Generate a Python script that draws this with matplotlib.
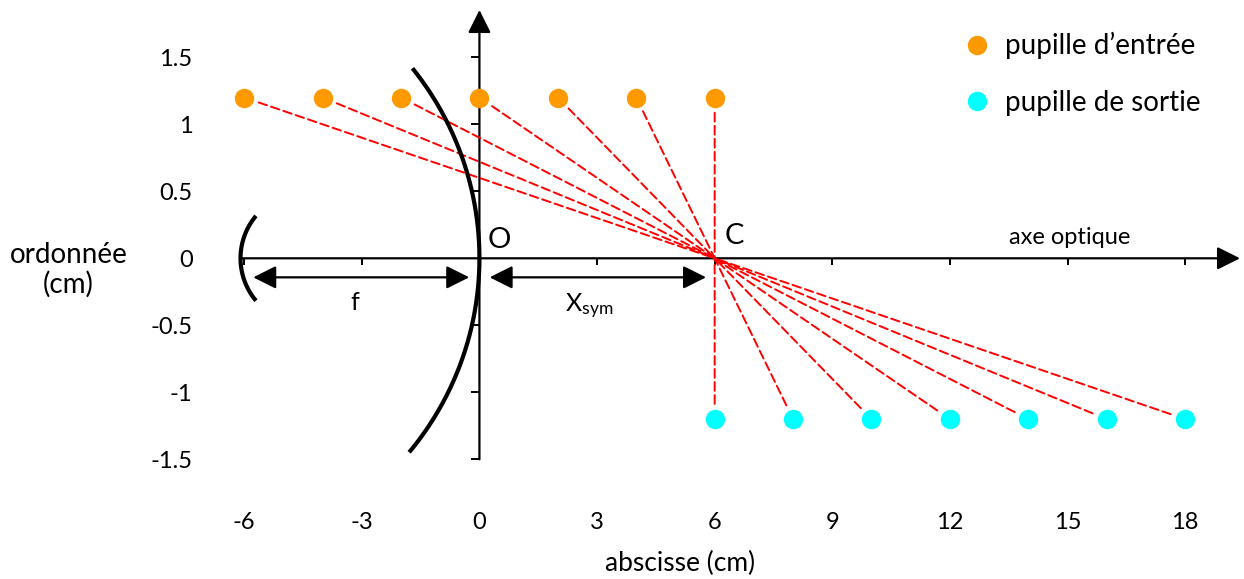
import matplotlib
matplotlib.use("Agg")
import matplotlib.pyplot as plt
import numpy as np
from matplotlib.markers import TICKLEFT, TICKDOWN

plt.rcParams['font.family'] = ['Lato', 'DejaVu Sans']
plt.rcParams['axes.unicode_minus'] = False
plt.rcParams['mathtext.default'] = 'regular'

# data
entree_x = [-6, -4, -2, 0, 2, 4, 6]
entree_y = [1.2, 1.2, 1.2, 1.2, 1.2, 1.2, 1.2]
sortie_x = [6, 8, 10, 12, 14, 16, 18]
sortie_y = [-1.2, -1.2, -1.2, -1.2, -1.2, -1.2, -1.2]
centre = (6, 0)

xticks = [-6, -3, 0, 3, 6, 9, 12, 15, 18]
yticks = [1.5, 1, 0.5, 0, -0.5, -1, -1.5]
ytick_labels = ['1.5', '1', '0.5', '0', '-0.5', '-1', '-1.5']

orange = '#FF9900'
cyan = '#00FFFF'

fig = plt.figure(figsize=(12.44, 5.79), dpi=100)
ax = fig.add_axes([205 / 1244, 1 - 466 / 579, 1035 / 1244, 456 / 579])
ax.set_xlim(-7.0, 19.4)
ax.set_ylim(-1.55, 1.853)
for s in ax.spines.values():
    s.set_visible(False)

ax.set_xticks(xticks)
ax.set_xticklabels([str(t) for t in xticks])
ax.set_yticks(yticks)
ax.set_yticklabels(ytick_labels)
ax.tick_params(axis='x', length=0, pad=33, labelsize=17)
ax.tick_params(axis='y', length=0, pad=9, labelsize=17)

# axes drawn through the origin
ax_arrow = dict(arrowstyle='-|>,head_length=0.7,head_width=0.35', lw=1.6,
                color='k', mutation_scale=20, shrinkA=0, shrinkB=0)
ax.annotate('', xy=(19.4, 0), xytext=(-6.05, 0), arrowprops=ax_arrow,
            annotation_clip=False)
ax.annotate('', xy=(0, 1.853), xytext=(0, -1.5), arrowprops=ax_arrow,
            annotation_clip=False)
xt = [t for t in xticks if t != 0]
yt = [t for t in yticks if t != 0]
ax.plot(xt, np.zeros(len(xt)), ls='none', marker=TICKDOWN, ms=5, mew=1.4,
        color='k')
ax.plot(np.zeros(len(yt)), yt, ls='none', marker=TICKLEFT, ms=6, mew=1.4,
        color='k')

# mirrors
yy = np.linspace(-1.448, 1.418, 200)
ax.plot(-7.73 + np.sqrt(7.73 ** 2 - (3.418 * yy) ** 2), yy, color='k',
        lw=3, solid_capstyle='butt', zorder=4)
th = np.radians(np.linspace(140, 220, 100))
ax.plot(-4.41 + 1.684 * np.cos(th), 0.4925 * np.sin(th), color='k', lw=3,
        solid_capstyle='butt', zorder=4)

# rays towards C
ray = dict(arrowstyle='-', color='red', lw=1.4, ls=(0, (4.5, 2.2)),
           shrinkA=11, shrinkB=0)
for x, y in zip(entree_x, entree_y):
    ax.annotate('', xy=centre, xytext=(x, y), arrowprops=ray)
for x, y in zip(sortie_x, sortie_y):
    ax.annotate('', xy=centre, xytext=(x, y), arrowprops=ray)

ax.plot(entree_x, entree_y, ls='none', marker='o', ms=14, color=orange,
        mec='none', zorder=5, label='pupille d\u2019entrée')
ax.plot(sortie_x, sortie_y, ls='none', marker='o', ms=14, color=cyan,
        mec='none', zorder=5, label='pupille de sortie')

# distances
dbl = dict(arrowstyle='<|-|>,head_length=0.7,head_width=0.35', lw=1.6,
           color='k', mutation_scale=20, shrinkA=0, shrinkB=0)
ax.annotate('', xy=(-0.26, -0.142), xytext=(-5.77, -0.142), arrowprops=dbl)
ax.annotate('', xy=(5.78, -0.142), xytext=(0.26, -0.142), arrowprops=dbl)
ax.text(-3.19, -0.33, 'f', fontsize=18, ha='center', va='center')
ax.text(2.8, -0.36, 'X$_{sym}$', fontsize=18, ha='center', va='center')
ax.text(0.51, 0.134, 'O', fontsize=21, ha='center', va='center')
ax.text(6.5, 0.17, 'C', fontsize=21, ha='center', va='center')
ax.text(15.05, 0.157, 'axe optique', fontsize=17, ha='center', va='center')

ax.set_xlabel('abscisse (cm)', fontsize=19, va='center')
ax.xaxis.set_label_coords(0.459, -0.213)
ax.set_ylabel('ordonnée\n(cm)', fontsize=20, rotation=0, ha='center',
              va='center', linespacing=1.1)
ax.yaxis.set_label_coords(-0.132, 0.43)

ax.legend(loc='upper right', bbox_to_anchor=(0.985, 0.988),
          bbox_transform=fig.transFigure, frameon=False, fontsize=20,
          handlelength=1.0, handletextpad=0.5, labelspacing=1.1,
          markerscale=1.0)

fig.savefig('out.png', dpi=100)
